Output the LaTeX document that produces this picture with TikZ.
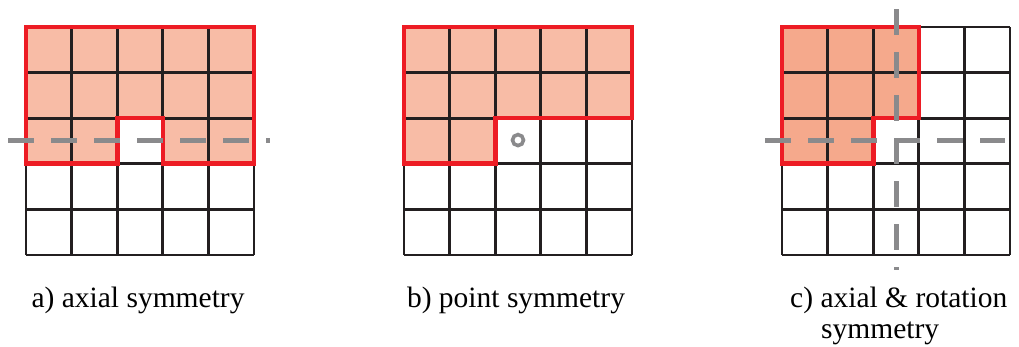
\documentclass[tikz,border=0pt]{standalone}
\usepackage{fontspec}
\setmainfont{Liberation Serif}
\usepackage{tikz}
\usetikzlibrary{positioning}
\usepackage{xcolor}

\definecolor{symred}{HTML}{ED1C24}
\definecolor{symfill}{HTML}{F8BCA6}
\definecolor{symfilldark}{HTML}{F5A98C}
\definecolor{symgrey}{HTML}{8A8A8C}
\definecolor{symblack}{HTML}{231F20}

\begin{document}
\begin{tikzpicture}[x=1pt, y=-1pt,
    cellgrid/.style={symblack, line width=2.8pt, step=45.6pt},
    redline/.style={symred, line width=4.6pt, line join=miter},
    symaxis/.style={symgrey, line width=5pt, dash pattern=on 26pt off 17pt},
    pivotmark/.style={circle, draw=symgrey, line width=3.6pt, minimum size=11pt, inner sep=0pt},
    labeltext/.style={font=\fontsize{29.5}{30}\selectfont, inner sep=0pt}]
    \useasboundingbox (0,0) rectangle (1019,347);

    % a) axial symmetry
    \begin{scope}[shift={(26,27)}, x=45.6pt, y=-45.6pt]
        \fill[symfill] (0,0) -- (5,0) -- (5,3) -- (3,3) -- (3,2) -- (2,2) -- (2,3) -- (0,3) -- cycle;
        \draw[cellgrid] (0,0) grid (5,5);
        \draw[redline] (0,0) -- (5,0) -- (5,3) -- (3,3) -- (3,2) -- (2,2) -- (2,3) -- (0,3) -- cycle;
        \coordinate (aL) at (-0.39,2.48);
        \coordinate (aR) at (5.35,2.48);
        \draw[symaxis] (aL) -- (aR);
    \end{scope}

    % b) point symmetry
    \begin{scope}[shift={(404,27)}, x=45.6pt, y=-45.6pt]
        \fill[symfill] (0,0) -- (5,0) -- (5,2) -- (2,2) -- (2,3) -- (0,3) -- cycle;
        \draw[cellgrid] (0,0) grid (5,5);
        \draw[redline] (0,0) -- (5,0) -- (5,2) -- (2,2) -- (2,3) -- (0,3) -- cycle;
        \node[pivotmark] (pt) at (2.5,2.48) {};
    \end{scope}

    % c) axial & rotation symmetry
    \begin{scope}[shift={(782,27)}, x=45.6pt, y=-45.6pt]
        \fill[symfilldark] (0,0) -- (3,0) -- (3,2) -- (2,2) -- (2,3) -- (0,3) -- cycle;
        \draw[cellgrid] (0,0) grid (5,5);
        \draw[redline] (0,0) -- (3,0) -- (3,2) -- (2,2) -- (2,3) -- (0,3) -- cycle;
        \coordinate (cL) at (-0.37,2.48);
        \coordinate (cR) at (4.9,2.48);
        \coordinate (cT) at (2.5,-0.39);
        \coordinate (cB) at (2.5,5.33);
        \draw[symaxis] (cL) -- (cR);
        \draw[symaxis] (cT) -- (cB);
    \end{scope}

    \node[labeltext, anchor=base] (labA) at (138,307) {a) axial symmetry};
    \node[labeltext, anchor=base] (labB) at (516,307) {b) point symmetry};
    \node[labeltext, anchor=base west, align=left] (labC) at (790,338)
        {c) axial \& rotation\\[1pt]\hspace*{31pt}symmetry};
\end{tikzpicture}
\end{document}
